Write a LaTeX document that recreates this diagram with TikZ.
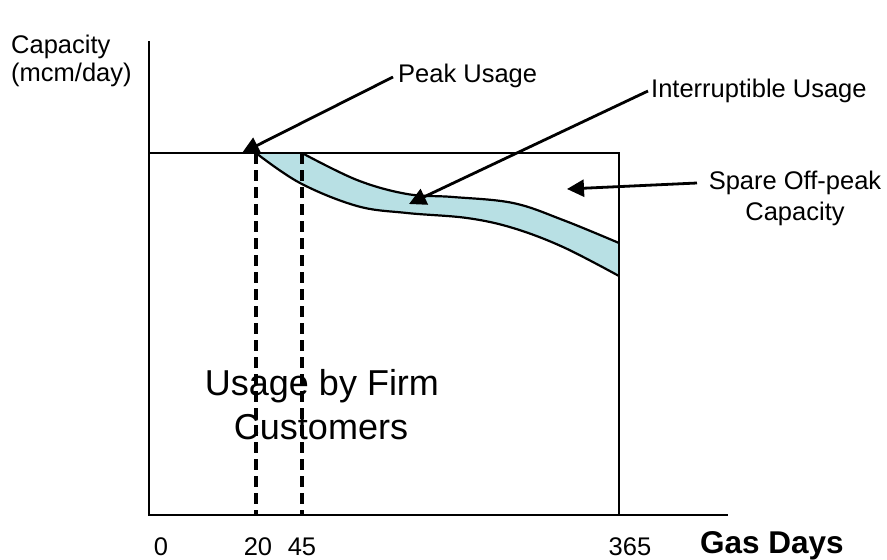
\documentclass[tikz,border=0pt]{standalone}
\usepackage{fontspec}
\setmainfont{Liberation Sans}
\usetikzlibrary{arrows.meta}
\definecolor{bandfill}{RGB}{184,224,228}
\tikzset{
  axisline/.style={line width=2.4pt, line cap=rect},
  dashline/.style={line width=3.2pt, dash pattern=on 11pt off 6pt},
  curveline/.style={line width=2.2pt},
  callout/.style={line width=2.8pt, -{Triangle[length=17pt,width=17pt]}},
  lbl/.style={inner sep=0pt, font=\fontsize{25.5}{30}\selectfont},
  biglbl/.style={inner sep=0pt, font=\fontsize{36}{40}\selectfont},
  axlbl/.style={inner sep=0pt, font=\fontsize{31.5}{36}\selectfont\bfseries},
}
\begin{document}
\begin{tikzpicture}[x=1pt,y=-1pt]
\useasboundingbox (0,0) rectangle (887,560);
% coordinates
\coordinate (o) at (149,515);
\coordinate (ytop) at (149,42);
\coordinate (xend) at (727,515);
\coordinate (boxtl) at (149,153);
\coordinate (boxtr) at (619,153);
\coordinate (boxbr) at (619,515);
\coordinate (d20t) at (256,153);
\coordinate (d20b) at (256,515);
\coordinate (d45t) at (302,153);
\coordinate (d45b) at (302,515);
% band fill
\fill[bandfill] (256,153) -- (302,153)
  -- plot[smooth, tension=0.6] coordinates {(302,153) (357,180) (407,194) (453,197) (513,203) (563,220) (619,243)}
  -- (619,276)
  -- plot[smooth, tension=0.6] coordinates {(619,276) (563,247) (513,228) (467,218) (407,213) (357,206) (300,183) (256,153)}
  -- cycle;
% band outlines
\draw[curveline] plot[smooth, tension=0.6] coordinates {(302,153) (357,180) (407,194) (453,197) (513,203) (563,220) (619,243)};
\draw[curveline] plot[smooth, tension=0.6] coordinates {(256,153) (300,183) (357,206) (407,213) (467,218) (513,228) (563,247) (619,276)};
% axes and box
\draw[axisline] (ytop) -- (o) -- (xend);
\draw[axisline] (boxtl) -- (boxtr) -- (boxbr);
% dashed lines
\draw[dashline] (d20t) -- (d20b);
\draw[dashline] (d45t) -- (d45b);
% labels
\node[lbl, anchor=base west] (cap1) at (11,53) {Capacity};
\node[lbl, anchor=base west] (cap2) at (11,81) {(mcm/day)};
\node[lbl, anchor=base west] (peak) at (398,82) {Peak Usage};
\node[lbl, anchor=base west] (intr) at (651,97) {Interruptible Usage};
\node[lbl, anchor=base] (spare1) at (795,189) {Spare Off-peak};
\node[lbl, anchor=base] (spare2) at (795,220) {Capacity};
\node[lbl, anchor=base] (t0) at (161,555) {0};
\node[lbl, anchor=base] (t20) at (258,555) {20};
\node[lbl, anchor=base] (t45) at (302,555) {45};
\node[lbl, anchor=base] (t365) at (630,555) {365};
\node[axlbl, anchor=base] (gas) at (772,553) {Gas Days};
\node[biglbl, anchor=base] (firm1) at (322,395) {Usage by Firm};
\node[biglbl, anchor=base] (firm2) at (321,439) {Customers};
% callout arrows
\coordinate (peakstart) at (393,77);
\coordinate (peaktip) at (242,153);
\coordinate (intrstart) at (648,91);
\coordinate (intrtip) at (409,204);
\coordinate (sparestart) at (697,183);
\coordinate (sparetip) at (567,189);
\draw[callout] (peakstart) -- (peaktip);
\draw[callout] (intrstart) -- (intrtip);
\draw[callout] (sparestart) -- (sparetip);
\end{tikzpicture}
\end{document}
